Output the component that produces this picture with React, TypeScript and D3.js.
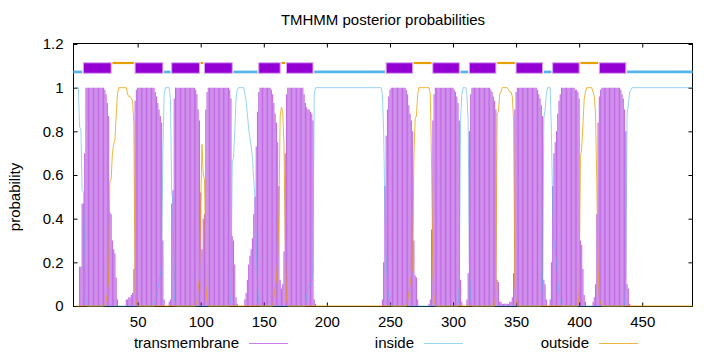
import * as d3 from "d3";
import React, { useRef, useEffect } from "react";

const mainWidth = 720;
const mainHeight = 352;
const plot = { left: 73.3, right: 692.7, top: 44, bottom: 306 };
const font = "'Liberation Sans', Arial, Helvetica, sans-serif";

const title = "TMHMM posterior probabilities";
const yLabel = "probability";
const seqLength = 490;
const xTicks = [50, 100, 150, 200, 250, 300, 350, 400, 450];
const yTicks = [0, 0.2, 0.4, 0.6, 0.8, 1, 1.2];

// transmembrane posterior, one value per residue, starting at the given residue
const tm1Start = 4;
const tm1 = [0.18, 0.18, 0.47, 0.47, 0.7, 1, 1, 1, 1, 1, 1, 1, 1, 1, 1, 1, 1, 1, 1, 1, 0.99, 0.97, 0.93, 0.87, 0.43, 0.42, 0.3, 0.26, 0.24, 0.13, 0.03];
const tm2Start = 41;
const tm2 = [0.03, 0.03, 0.04, 0.04, 0.05, 0.06, 0.17, 0.94, 0.99, 1, 1, 1, 1, 1, 1, 1, 1, 1, 1, 1, 1, 1, 1, 0.98, 0.96, 0.93, 0.9, 0.87, 0.84, 0.3, 0.03];
const tm34Start = 75;
const tm34 = [0.02, 0.03, 0.47, 0.53, 0.95, 1, 1, 1, 1, 1, 1, 1, 1, 1, 1, 1, 1, 1, 1, 1, 1, 0.99, 0.97, 0.9, 0.85, 0.52, 0.26, 0.4, 0.42, 0.9, 0.98, 1, 1, 1, 1, 1, 1, 1, 1, 1, 1, 1, 1, 1, 1, 1, 1, 1, 0.99, 0.95, 0.32, 0.3, 0.19, 0.04, 0.01];
const tm56Start = 135;
const tm56 = [0.03, 0.06, 0.12, 0.19, 0.23, 0.26, 0.31, 0.42, 0.5, 0.73, 0.89, 0.98, 1, 1, 1, 1, 1, 1, 1, 1, 1, 0.99, 0.97, 0.93, 0.88, 0.84, 0.75, 0.55, 0.12, 0.08, 0.1, 0.25, 0.7, 0.97, 1, 1, 1, 1, 1, 1, 1, 1, 1, 1, 1, 1, 1, 0.97, 0.93, 0.91, 0.9, 0.9, 0.89, 0.88, 0.85, 0.03, 0.01];
const tm7Start = 244;
const tm7 = [0.03, 0.2, 0.55, 0.78, 0.9, 0.96, 0.99, 1, 1, 1, 1, 1, 1, 1, 1, 1, 1, 1, 1, 0.99, 0.97, 0.92, 0.88, 0.85, 0.8, 0.3, 0.14, 0.13, 0.03];
const tm8Start = 281;
const tm8 = [0.01, 0.03, 0.35, 0.85, 0.97, 1, 1, 1, 1, 1, 1, 1, 1, 1, 1, 1, 1, 1, 1, 1, 0.99, 0.98, 0.96, 0.93, 0.85, 0.12, 0.02];
const tm910Start = 311;
const tm910 = [0.03, 0.15, 0.8, 0.97, 1, 1, 1, 1, 1, 1, 1, 1, 1, 1, 1, 1, 1, 1, 1, 0.99, 0.98, 0.96, 0.94, 0.9, 0.12, 0.11, 0.02, 0.02, 0.01, 0.01, 0.01, 0.01, 0.01, 0.01, 0.02, 0.02, 0.04, 0.15, 0.9, 0.98, 1, 1, 1, 1, 1, 1, 1, 1, 1, 1, 1, 1, 1, 1, 1, 1, 0.99, 0.97, 0.95, 0.92, 0.87, 0.12, 0.1, 0.03];
const tm11Start = 377;
const tm11 = [0.03, 0.2, 0.55, 0.7, 0.75, 0.8, 0.88, 0.94, 0.97, 1, 1, 1, 1, 1, 1, 1, 1, 1, 1, 1, 0.99, 0.99, 0.98, 0.95, 0.3, 0.28, 0.17, 0.05, 0.02];
const tm12Start = 411;
const tm12 = [0.02, 0.04, 0.1, 0.42, 0.84, 0.96, 0.99, 1, 1, 1, 1, 1, 1, 1, 1, 1, 1, 1, 1, 1, 1, 1, 0.99, 0.97, 0.95, 0.9, 0.8, 0.1, 0.08, 0.01];

// inside / outside posterior as [residue, probability]
const inside = [
  [1, 1], [3, 1], [4, 0.82], [5, 0.81], [6, 0.53], [7, 0.52], [8, 0.3], [9, 0.02], [10, 0],
  [63, 0], [64, 0.03], [65, 0.05], [66, 0.08], [67, 0.11], [68, 0.14], [69, 0.2], [70, 0.7], [71, 0.97], [72, 1], [75, 1], [76, 0.95], [77, 0.53], [78, 0.47], [79, 0.05], [80, 0],
  [123, 0], [124, 0.05], [125, 0.66], [126, 0.68], [127, 0.8], [128, 0.95], [129, 0.99], [130, 1], [134, 1], [135, 0.97], [136, 0.94], [137, 0.88], [138, 0.81], [139, 0.77], [140, 0.73], [141, 0.68], [142, 0.58], [143, 0.5], [144, 0.27], [145, 0.11], [146, 0.02], [147, 0],
  [183, 0], [184, 0.05], [185, 0.08], [186, 0.09], [187, 0.1], [188, 0.12], [189, 0.15], [190, 0.97], [191, 1], [243, 1], [244, 0.97], [245, 0.8], [246, 0.45], [247, 0.22], [248, 0.1], [249, 0.04], [250, 0.01], [251, 0],
  [304, 0], [305, 0.1], [306, 0.86], [307, 0.97], [308, 1], [310, 1], [311, 0.97], [312, 0.85], [313, 0.2], [314, 0.03], [315, 0],
  [370, 0], [371, 0.12], [372, 0.86], [373, 0.9], [374, 0.97], [375, 1], [377, 1], [378, 0.8], [379, 0.45], [380, 0.3], [381, 0.25], [382, 0.2], [383, 0.12], [384, 0.06], [385, 0.03], [386, 0],
  [436, 0], [437, 0.15], [438, 0.88], [439, 0.92], [440, 0.98], [441, 0.99], [442, 1], [490, 1],
];
const outside = [
  [1, 0], [23, 0], [24, 0.01], [25, 0.02], [26, 0.06], [27, 0.12], [28, 0.57], [29, 0.58], [30, 0.7], [31, 0.74], [32, 0.76], [33, 0.87], [34, 0.97], [35, 1], [41, 1], [42, 0.97], [43, 0.96], [44, 0.96], [45, 0.95], [46, 0.94], [47, 0.83], [48, 0.06], [49, 0.01], [50, 0],
  [96, 0], [97, 0.02], [98, 0.08], [99, 0.13], [100, 0.46], [101, 0.74], [102, 0.6], [103, 0.58], [104, 0.1], [105, 0.02], [106, 0],
  [157, 0], [158, 0.04], [159, 0.08], [160, 0.12], [161, 0.22], [162, 0.43], [163, 0.87], [164, 0.91], [165, 0.89], [166, 0.74], [167, 0.3], [168, 0.03], [169, 0],
  [263, 0], [264, 0.02], [265, 0.06], [266, 0.1], [267, 0.14], [268, 0.18], [269, 0.68], [270, 0.86], [271, 0.87], [272, 0.97], [273, 1], [281, 1], [282, 0.97], [283, 0.65], [284, 0.15], [285, 0.03], [286, 0],
  [333, 0], [334, 0.08], [335, 0.88], [336, 0.89], [337, 0.97], [338, 0.98], [339, 1], [343, 1], [344, 0.99], [345, 0.98], [346, 0.98], [347, 0.96], [348, 0.85], [349, 0.1], [350, 0.02], [351, 0],
  [399, 0], [400, 0.05], [401, 0.68], [402, 0.72], [403, 0.83], [404, 0.95], [405, 0.98], [406, 1], [410, 1], [411, 0.98], [412, 0.96], [413, 0.88], [414, 0.56], [415, 0.16], [416, 0.04], [417, 0.01], [418, 0],
  [490, 0],
];

// predicted topology: [state, first residue, last residue]
const topology = [
  ["inside", -1, 6], ["TMhelix", 7, 29], ["outside", 30, 47], ["TMhelix", 48, 70],
  ["inside", 71, 76], ["TMhelix", 77, 99], ["outside", 100, 102], ["TMhelix", 103, 125],
  ["inside", 126, 145], ["TMhelix", 146, 163], ["outside", 164, 167], ["TMhelix", 168, 189],
  ["inside", 190, 246], ["TMhelix", 247, 268], ["outside", 269, 283], ["TMhelix", 284, 305],
  ["inside", 306, 312], ["TMhelix", 313, 334], ["outside", 335, 349], ["TMhelix", 350, 371],
  ["inside", 372, 378], ["TMhelix", 379, 400], ["outside", 401, 415], ["TMhelix", 416, 437],
  ["inside", 438, 490],
];
const legendLabels = ["transmembrane", "inside", "outside"];

const tmRuns = [
  [tm1Start, tm1], [tm2Start, tm2], [tm34Start, tm34], [tm56Start, tm56], [tm7Start, tm7],
  [tm8Start, tm8], [tm910Start, tm910], [tm11Start, tm11], [tm12Start, tm12],
] as [number, number[]][];

const purple = "#9400d3";
const blue = "#56b4e9";
const orange = "#e69f00";
const seriesColor = [purple, blue, orange];
const seriesOpacity = [0.5, 0.6, 0.75];

function App() {
  const ref = useRef<SVGSVGElement>(null);

  useEffect(() => {
    const svg = d3.select(ref.current);
    svg.selectAll("*").remove();

    const x = d3.scaleLinear().domain([-1, seqLength]).range([plot.left, plot.right]);
    const y = d3.scaleLinear().domain([0, 1.2]).range([plot.bottom, plot.top]);

    svg.append("rect").attr("width", mainWidth).attr("height", mainHeight).attr("fill", "#fff");

    svg
      .append("defs")
      .append("clipPath")
      .attr("id", "plot-area")
      .append("rect")
      .attr("x", 73)
      .attr("y", 40)
      .attr("width", 620)
      .attr("height", 268);

    // frame
    svg
      .append("rect")
      .attr("x", 73.5)
      .attr("y", 43.5)
      .attr("width", 619)
      .attr("height", 263)
      .attr("fill", "none")
      .attr("stroke", "#000")
      .attr("stroke-width", 1);

    const styleAxis = (g: any) => {
      g.select(".domain").remove();
      g.selectAll("line").attr("stroke", "#000");
      g.selectAll("text").attr("font-family", font).attr("font-size", 15).attr("fill", "#000");
    };

    svg
      .append("g")
      .attr("transform", `translate(0,${plot.bottom + 0.5})`)
      .call(d3.axisBottom(x).tickValues(xTicks).tickSizeInner(-4).tickSizeOuter(0).tickPadding(10))
      .call(styleAxis);
    svg
      .append("g")
      .attr("transform", `translate(0,${plot.top - 0.5})`)
      .call(d3.axisTop(x).tickValues(xTicks).tickSizeInner(-4).tickSizeOuter(0).tickFormat(() => ""))
      .call(styleAxis);
    svg
      .append("g")
      .attr("transform", `translate(${73.5},0)`)
      .call(d3.axisLeft(y).tickValues(yTicks).tickSizeInner(-4).tickSizeOuter(0).tickPadding(10).tickFormat((d: any) => String(d)))
      .call(styleAxis);
    svg
      .append("g")
      .attr("transform", `translate(${692.5},0)`)
      .call(d3.axisRight(y).tickValues(yTicks).tickSizeInner(-4).tickSizeOuter(0).tickFormat(() => ""))
      .call(styleAxis);

    const data = svg.append("g").attr("clip-path", "url(#plot-area)");

    // transmembrane impulses
    const impulses = tmRuns.flatMap(([start, vals]) => vals.map((v, i) => ({ res: start + i, v })));
    data
      .append("g")
      .selectAll("line")
      .data(impulses)
      .join("line")
      .attr("x1", (d) => x(d.res))
      .attr("x2", (d) => x(d.res))
      .attr("y1", y(0))
      .attr("y2", (d) => y(d.v))
      .attr("stroke", purple)
      .attr("stroke-opacity", 0.58)
      .attr("stroke-width", 1.1);

    const line = d3
      .line<number[]>()
      .x((d) => x(d[0]))
      .y((d) => y(d[1]));

    data
      .append("path")
      .datum(inside)
      .attr("d", line)
      .attr("fill", "none")
      .attr("stroke", blue)
      .attr("stroke-opacity", seriesOpacity[1])
      .attr("stroke-width", 1);
    data
      .append("path")
      .datum(outside)
      .attr("d", line)
      .attr("fill", "none")
      .attr("stroke", orange)
      .attr("stroke-opacity", seriesOpacity[2])
      .attr("stroke-width", 1);

    // topology track above the curves
    const track = data.append("g");
    track
      .selectAll("line")
      .data(topology.filter((t) => t[0] !== "TMhelix"))
      .join("line")
      .attr("x1", (d: any) => x(d[1]))
      .attr("x2", (d: any) => x(d[2]))
      .attr("y1", (d: any) => (d[0] === "inside" ? y(1.072) : y(1.113)))
      .attr("y2", (d: any) => (d[0] === "inside" ? y(1.072) : y(1.113)))
      .attr("stroke", (d: any) => (d[0] === "inside" ? blue : orange))
      .attr("stroke-width", (d: any) => (d[0] === "inside" ? 2.7 : 2.2));
    track
      .selectAll("rect")
      .data(topology.filter((t) => t[0] === "TMhelix"))
      .join("rect")
      .attr("x", (d: any) => x(d[1]))
      .attr("width", (d: any) => x(d[2]) - x(d[1]))
      .attr("y", y(1.114))
      .attr("height", y(1.066) - y(1.114))
      .attr("fill", purple)
      .attr("stroke", "#d7a3f1")
      .attr("stroke-width", 1);

    // title and y label
    svg
      .append("text")
      .attr("x", (plot.left + plot.right) / 2)
      .attr("y", 25)
      .attr("text-anchor", "middle")
      .attr("font-family", font)
      .attr("font-size", 15)
      .text(title);
    svg
      .append("text")
      .attr("transform", `translate(20,197) rotate(-90)`)
      .attr("text-anchor", "middle")
      .attr("font-family", font)
      .attr("font-size", 15)
      .text(yLabel);

    // key below the plot
    const key = svg
      .append("g")
      .selectAll("g")
      .data(legendLabels)
      .join("g")
      .attr("transform", (d, i) => `translate(${239 + i * 175},0)`);
    key
      .append("text")
      .attr("y", 348)
      .attr("text-anchor", "end")
      .attr("font-family", font)
      .attr("font-size", 15)
      .text((d) => d);
    key
      .append("line")
      .attr("x1", 10)
      .attr("x2", 49)
      .attr("y1", 343.5)
      .attr("y2", 343.5)
      .attr("stroke", (d, i) => seriesColor[i])
      .attr("stroke-opacity", (d, i) => seriesOpacity[i])
      .attr("stroke-width", 1);
  }, []);

  return (
    <svg
      ref={ref}
      width={mainWidth}
      height={mainHeight}
      style={{ position: "absolute", left: 0, top: 0, display: "block" }}
    ></svg>
  );
}

export default App;
